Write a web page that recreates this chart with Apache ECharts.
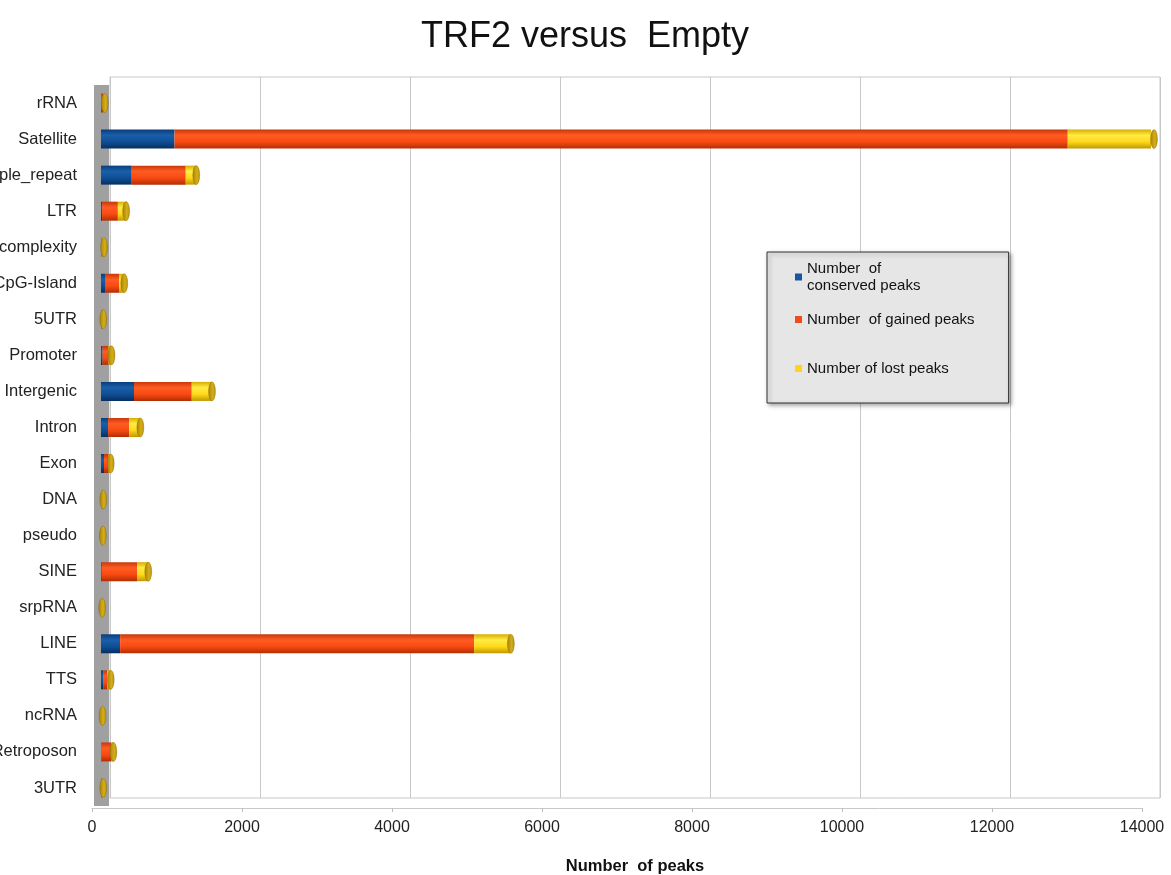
<!DOCTYPE html>
<html>
<head>
<meta charset="utf-8">
<script src="https://cdn.jsdelivr.net/npm/echarts@6/dist/echarts.min.js"></script>
<style>
html,body{margin:0;padding:0;background:#fff;}
#chart{width:1171px;height:875px;}
</style>
</head>
<body>
<div id="chart"></div>
<script>
const categories = ['rRNA','Satellite','Simple_repeat','LTR','Low_complexity','CpG-Island','5UTR','Promoter','Intergenic','Intron','Exon','DNA','pseudo','SINE','srpRNA','LINE','TTS','ncRNA','Retroposon','3UTR'];
const conserved = [0, 980, 410, 15, 0, 60, 0, 20, 440, 95, 40, 0, 0, 10, 0, 255, 30, 0, 5, 5];
const gained    = [30, 11910, 720, 210, 10, 180, 10, 80, 770, 280, 60, 5, 5, 470, 0, 4720, 50, 0, 130, 5];
const lost      = [20, 1150, 140, 110, 30, 70, 20, 40, 270, 150, 30, 25, 20, 150, 15, 490, 50, 20, 30, 20];
const seriesNames = ['Number of conserved peaks','Number of gained peaks','Number of lost peaks'];
const legendLabels = ['Number  of\nconserved peaks','Number  of gained peaks','Number of lost peaks'];
const titleText = 'TRF2 versus  Empty';
const xAxisTitle = 'Number  of peaks';

const totals = categories.map((c, i) => conserved[i] + gained[i] + lost[i]);

const FONT = 'Liberation Sans, Arial, sans-serif';
const G = echarts.graphic.LinearGradient;
const blueFill = new G(0,0,0,1,[{offset:0,color:'#0a3d7c'},{offset:0.3,color:'#1a5fa9'},{offset:0.65,color:'#0f4e95'},{offset:1,color:'#062f60'}]);
const orangeFill = new G(0,0,0,1,[{offset:0,color:'#c8380a'},{offset:0.3,color:'#ff5c22'},{offset:0.65,color:'#f84a12'},{offset:1,color:'#b22e05'}]);
const yellowFill = new G(0,0,0,1,[{offset:0,color:'#d6ad00'},{offset:0.3,color:'#ffec45'},{offset:0.65,color:'#ffd81a'},{offset:1,color:'#c09800'}]);
const capFill = new G(0,0,1,0,[{offset:0,color:'#a8820a'},{offset:0.6,color:'#d4ae18'},{offset:1,color:'#b8920c'}]);
const wallFill = new G(0,0,1,0,[{offset:0,color:'#8f8f8f'},{offset:1,color:'#aaaaaa'}]);

const chart = echarts.init(document.getElementById('chart'), null, {renderer:'canvas'});

const barBase = {
  type: 'bar', stack: 'total', xAxisIndex: 1, yAxisIndex: 1,
  barWidth: 19, silent: true, emphasis: {disabled: true}
};

chart.setOption({
  animation: false,
  backgroundColor: '#ffffff',
  title: {
    text: titleText, left: 580, top: 14, textAlign: 'center',
    textStyle: {fontFamily: FONT, fontSize: 36, fontWeight: 'normal', color: '#111'}
  },
  legend: [
    {
      data: [{name: seriesNames[0], itemStyle: {color: '#1657a0'}}, {name: seriesNames[1], itemStyle: {color: '#f24a1a'}}],
      orient: 'vertical', left: 767, top: 252, padding: [8, 34, 75, 28], itemGap: 17,
      itemWidth: 7, itemHeight: 7, icon: 'rect', selectedMode: false,
      backgroundColor: '#e6e6e6', borderColor: '#333', borderWidth: 1,
      shadowBlur: 4, shadowColor: 'rgba(0,0,0,0.35)', shadowOffsetX: 2, shadowOffsetY: 2,
      textStyle: {fontFamily: FONT, fontSize: 15, color: '#111', lineHeight: 17},
      formatter: n => legendLabels[seriesNames.indexOf(n)]
    },
    {
      data: [{name: seriesNames[2], itemStyle: {color: '#ffd21c'}}],
      orient: 'vertical', left: 767, top: 360, padding: [0, 0, 0, 28],
      itemWidth: 7, itemHeight: 7, icon: 'rect', selectedMode: false,
      textStyle: {fontFamily: FONT, fontSize: 15, color: '#111', lineHeight: 17},
      formatter: n => legendLabels[seriesNames.indexOf(n)]
    }
  ],
  grid: [
    {left: 110, top: 77, width: 1050, height: 721, show: true, borderColor: '#c8c8c8', borderWidth: 1, containLabel: false, outerBoundsMode: 'none'},
    {left: 101, top: 85, width: 1050, height: 721, containLabel: false, outerBoundsMode: 'none'},
    {left: 92, top: 85, width: 1050, height: 723, containLabel: false, outerBoundsMode: 'none'}
  ],
  xAxis: [
    {gridIndex: 0, type: 'value', min: 0, max: 14000, interval: 2000,
     axisLine: {show: false}, axisTick: {show: false}, axisLabel: {show: false},
     splitLine: {show: true, lineStyle: {color: '#c8c8c8', width: 1}}},
    {gridIndex: 1, type: 'value', min: 0, max: 14000, interval: 2000,
     axisLine: {show: false}, axisTick: {show: false}, axisLabel: {show: false}, splitLine: {show: false}},
    {gridIndex: 2, type: 'value', min: 0, max: 14000, interval: 2000,
     axisLine: {show: true, lineStyle: {color: '#c8c8c8', width: 1}},
     axisTick: {show: true, length: 4, lineStyle: {color: '#bdbdbd'}},
     axisLabel: {show: true, margin: 12, fontFamily: FONT, fontSize: 16, color: '#222', formatter: v => String(v)},
     splitLine: {show: false},
     name: xAxisTitle, nameLocation: 'middle', nameGap: 50,
     nameTextStyle: {fontFamily: FONT, fontSize: 16.5, fontWeight: 'bold', color: '#111', padding: [0, 0, 0, 36]}}
  ],
  yAxis: [
    {gridIndex: 0, type: 'category', data: categories, inverse: true,
     axisLine: {show: false}, axisTick: {show: false}, axisLabel: {show: false}, splitLine: {show: false}},
    {gridIndex: 1, type: 'category', data: categories, inverse: true,
     axisLine: {show: true, lineStyle: {color: '#a0a0a0', width: 15, cap: 'butt'}},
     axisTick: {show: false},
     axisLabel: {show: true, margin: 24, fontFamily: FONT, fontSize: 16.5, color: '#222'},
     splitLine: {show: false}},
    {gridIndex: 2, type: 'category', data: categories, inverse: true, show: false}
  ],
  series: [
    Object.assign({}, barBase, {name: seriesNames[0], data: conserved, itemStyle: {color: blueFill}}),
    Object.assign({}, barBase, {name: seriesNames[1], data: gained, itemStyle: {color: orangeFill}}),
    Object.assign({}, barBase, {name: seriesNames[2], data: lost, itemStyle: {color: yellowFill}}),
    {
      type: 'custom', name: 'caps', xAxisIndex: 1, yAxisIndex: 1, z: 5, silent: true,
      data: totals.map((t, i) => [t, i]),
      encode: {x: 0, y: 1},
      renderItem: function (params, api) {
        const p = api.coord([api.value(0), api.value(1)]);
        const h = api.size([0, 1])[1] * 0.53;
        return {
          type: 'circle', x: p[0], y: p[1], scaleX: 0.36,
          shape: {cx: 0, cy: 0, r: h / 2},
          style: {fill: capFill, stroke: 'rgba(120,90,0,0.5)', lineWidth: 1}
        };
      }
    }
  ]
});
</script>
</body>
</html>
